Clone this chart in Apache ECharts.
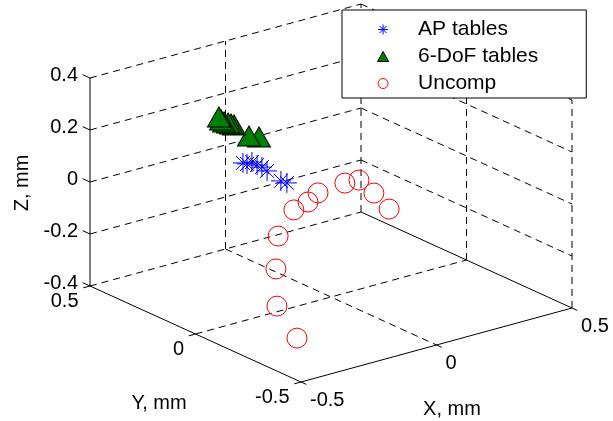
<!DOCTYPE html>
<html><head><meta charset="utf-8">
<script src="https://cdn.jsdelivr.net/npm/echarts@6/dist/echarts.min.js"></script>
<style>html,body{margin:0;padding:0;background:#fff}#c{width:613px;height:421px}</style>
</head><body><div id="c"></div>
<script>
// ---------- data ----------
const seriesNames = ['AP tables', '6-DoF tables', 'Uncomp'];

const apX = [-0.247, -0.232, -0.214, -0.195, -0.177, -0.158, -0.107, -0.085];
const apY = [0.1, 0.1, 0.1, 0.1, 0.1, 0.1, 0.1, 0.1];
const apZ = [0.149, 0.141, 0.143, 0.126, 0.113, 0.093, 0.040, 0.026];

const dofX = [-0.110, -0.147, -0.202, -0.213, -0.224, -0.239, -0.250, -0.258];
const dofY = [0.2, 0.2, 0.2, 0.2, 0.2, 0.2, 0.2, 0.2];
const dofZ = [0.173, 0.187, 0.245, 0.252, 0.259, 0.267, 0.278, 0.292];

const ucX = [-0.437, -0.433, -0.359, -0.273, -0.137, -0.046, 0.030, 0.168, 0.259, 0.353, 0.448];
const ucY = [-0.40, -0.30, -0.20, -0.10, 0.00, 0.05, 0.10, 0.15, 0.20, 0.25, 0.30];
const ucZ = [-0.286, -0.201, -0.116, -0.051, -0.026, -0.040, -0.045, -0.065, -0.098, -0.193, -0.300];

const xTicks = [-0.5, 0, 0.5];
const yTicks = [-0.5, 0, 0.5];
const zTicks = [-0.4, -0.2, 0, 0.2, 0.4];
const xTickLabels = ['-0.5', '0', '0.5'];
const yTickLabels = ['-0.5', '0', '0.5'];
const zTickLabels = ['-0.4', '-0.2', '0', '0.2', '0.4'];
const axisNames = ['X, mm', 'Y, mm', 'Z, mm'];

// ---------- view (orthographic projection onto a helper 2D plane) ----------
const W = 613, H = 421;
const VIEW = { o: [331, 193], ex: [271, -74], ey: [-211, -96], ez: [0, -260] };
function proj(x, y, z) {
  return [VIEW.o[0] + VIEW.ex[0] * x + VIEW.ey[0] * y + VIEW.ez[0] * z,
          VIEW.o[1] + VIEW.ex[1] * x + VIEW.ey[1] * y + VIEW.ez[1] * z];
}
const xmin = xTicks[0], xmax = xTicks[xTicks.length - 1];
const ymin = yTicks[0], ymax = yTicks[yTicks.length - 1];
const zmin = zTicks[0], zmax = zTicks[zTicks.length - 1];

// ---------- box, grid, ticks ----------
const segs = [];
function seg(a, b, dash) { segs.push({ a: a, b: b, dash: dash }); }
zTicks.forEach(z => {
  seg([xmin, ymax, z], [xmax, ymax, z], true);
  if (z !== zmin) seg([xmax, ymax, z], [xmax, ymin, z], true);
});
xTicks.forEach(x => { if (x > xmin) seg([x, ymax, zmin], [x, ymax, zmax], true); });
yTicks.forEach(y => { if (y < ymax) seg([xmax, y, zmin], [xmax, y, zmax], true); });
xTicks.forEach(x => { if (x > xmin && x < xmax) seg([x, ymax, zmin], [x, ymin, zmin], true); });
yTicks.forEach(y => { if (y > ymin && y < ymax) seg([xmin, y, zmin], [xmax, y, zmin], true); });
// solid axes
seg([xmin, ymax, zmin], [xmin, ymax, zmax], false);
seg([xmin, ymin, zmin], [xmin, ymax, zmin], false);
seg([xmin, ymin, zmin], [xmax, ymin, zmin], false);
seg([xmax, ymin, zmin], [xmax, ymax, zmin], false);
// tick marks
zTicks.forEach(z => seg([xmin, ymax, z], [xmin, ymax + 0.035, z], false));
xTicks.forEach(x => seg([x, ymin, zmin], [x, ymin - 0.025, zmin], false));
yTicks.forEach(y => seg([xmin, y, zmin], [xmin - 0.025, y, zmin], false));

// ---------- texts ----------
const FONT = '"Liberation Sans", Arial, Helvetica, sans-serif';
const texts = [];
zTicks.forEach((z, i) => texts.push({ p: proj(xmin, ymax, z), dx: -12, dy: -2.5, text: zTickLabels[i], align: 'right', rot: 0 }));
yTicks.forEach((y, i) => texts.push({ p: proj(xmin, y, zmin), dx: -11.5, dy: 15, text: yTickLabels[i], align: 'right', rot: 0 }));
xTicks.forEach((x, i) => texts.push({ p: proj(x, ymin, zmin), dx: 9, dy: 18, text: xTickLabels[i], align: 'left', rot: 0 }));
texts.push({ p: proj((xmin + xmax) / 2, ymin, zmin), dx: 15.5, dy: 64, text: axisNames[0], align: 'center', rot: 0 });
texts.push({ p: proj(xmin, (ymin + ymax) / 2, zmin), dx: -36.5, dy: 69, text: axisNames[1], align: 'center', rot: 0 });
texts.push({ p: proj(xmin, ymax, (zmin + zmax) / 2), dx: -68, dy: 1, text: axisNames[2], align: 'center', rot: Math.PI / 2 });

const starPath = 'path://M10,0L10,20M0,10L20,10M3,3L17,17M3,17L17,3';
const triPath = 'path://M10,0L20,18L0,18Z';

const chart = echarts.init(document.getElementById('c'), null, { renderer: 'canvas' });
chart.setOption({
  animation: false,
  backgroundColor: '#fff',
  grid: { left: 0, top: 0, width: W, height: H, containLabel: false },
  xAxis: { type: 'value', min: 0, max: W, show: false },
  yAxis: { type: 'value', min: 0, max: H, inverse: true, show: false },
  legend: {
    data: seriesNames, orient: 'vertical', left: 342, top: 10,
    padding: [9, 48, 4, 35], itemWidth: 60, itemHeight: 10, itemGap: 6,
    borderColor: '#000', borderWidth: 1, backgroundColor: '#fff',
    textStyle: { fontSize: 21, fontFamily: FONT, color: '#000' },
    itemStyle: { borderWidth: 1 }, selectedMode: false, symbolKeepAspect: true
  },
  series: [
    {
      type: 'custom', coordinateSystem: 'cartesian2d', silent: true, z: 1,
      data: segs.map(s => proj.apply(null, s.a).concat(proj.apply(null, s.b))),
      encode: { x: [0, 2], y: [1, 3] },
      renderItem: (params, api) => {
        const p1 = api.coord([api.value(0), api.value(1)]);
        const p2 = api.coord([api.value(2), api.value(3)]);
        const s = segs[params.dataIndex];
        return { type: 'line', shape: { x1: p1[0], y1: p1[1], x2: p2[0], y2: p2[1] },
          style: { stroke: '#000', lineWidth: 1, lineDash: s.dash ? [7, 5] : null } };
      }
    },
    {
      type: 'custom', coordinateSystem: 'cartesian2d', silent: true, z: 1,
      data: texts.map(t => t.p),
      renderItem: (params, api) => {
        const t = texts[params.dataIndex];
        const p = api.coord([api.value(0), api.value(1)]);
        return { type: 'text', x: p[0] + t.dx, y: p[1] + t.dy, rotation: t.rot,
          style: { text: t.text, align: t.align, verticalAlign: 'middle', fontSize: 20, fontFamily: FONT, fill: '#000' } };
      }
    },
    {
      name: seriesNames[0], type: 'scatter', silent: true, z: 3,
      symbol: starPath, symbolSize: 20,
      itemStyle: { color: 'transparent', borderColor: '#0000ff', borderWidth: 1, opacity: 1 },
      data: apX.map((x, i) => proj(x, apY[i], apZ[i]))
    },
    {
      name: seriesNames[1], type: 'scatter', silent: true, z: 3,
      symbol: triPath, symbolSize: [23, 20],
      itemStyle: { color: '#008000', borderColor: '#000', borderWidth: 1, opacity: 1 },
      data: dofX.map((x, i) => proj(x, dofY[i], dofZ[i]))
    },
    {
      name: seriesNames[2], type: 'scatter', silent: true, z: 3,
      symbol: 'circle', symbolSize: 20,
      itemStyle: { color: 'transparent', borderColor: '#ff0000', borderWidth: 1, opacity: 1 },
      data: ucX.map((x, i) => proj(x, ucY[i], ucZ[i]))
    }
  ]
});
</script></body></html>
